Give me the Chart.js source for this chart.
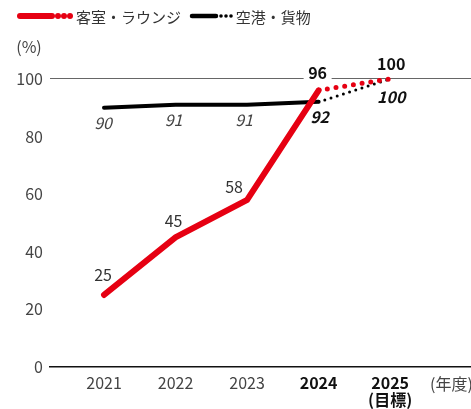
<!DOCTYPE html>
<html>
<head>
<meta charset="utf-8">
<script src="https://cdn.jsdelivr.net/npm/chart.js@4"></script>
<style>
  html, body { margin: 0; padding: 0; background: #fff; }
</style>
</head>
<body>
<canvas id="myChart" width="471" height="409"></canvas>
<script>
// Values
const years = [2021, 2022, 2023, 2024, 2025];
const yearLabels = ['2021', '2022', '2023', '2024', ['2025', '(目標)']];
const cabinValues = [25, 45, 58, 96, 100];    // 客室・ラウンジ
const airportValues = [90, 91, 91, 92, 100];  // 空港・貨物
const yTicks = [0, 20, 40, 60, 80, 100];
const cabinName = '客室・ラウンジ';
const airportName = '空港・貨物';
const lastActual = 3; // index of 2024, after that the line is the target (dotted)

const FONT = "'Noto Sans CJK JP', 'Noto Sans', sans-serif";
const RED = '#e60012';
const BLACK = '#000';

// Split a series into the solid (actual) part and the dotted (target) part
const toPoints = (vals) => years.map((y, i) => ({ x: y, y: vals[i] }));
const solidPart = (vals) => toPoints(vals).slice(0, lastActual + 1);
const dottedPart = (vals) => toPoints(vals).slice(lastActual);

// Label offsets from each point (pixels), and style of each label
const cabinOffsets = [[-1, -20], [-2, -16], [-13, -13], [-1, -17], [1, -15]];
const airportOffsets = [[-1, 15], [-2, 15], [-3, 15], [1, 15], [1, 18]];

// Draw the value labels next to the points
const valueLabels = {
    id: 'valueLabels',
    beforeDatasetsDraw(chart) {
        // white box behind the "96" label breaks the 100 grid line
        const { ctx, scales: { x, y } } = chart;
        const px = x.getPixelForValue(years[lastActual]) + cabinOffsets[lastActual][0];
        const py = y.getPixelForValue(cabinValues[lastActual]) + cabinOffsets[lastActual][1];
        ctx.save();
        ctx.fillStyle = '#fff';
        ctx.fillRect(px - 14, py - 9, 28, 18);
        ctx.restore();
    },
    afterDatasetsDraw(chart) {
        const { ctx, scales: { x, y } } = chart;
        ctx.save();
        ctx.textAlign = 'center';
        ctx.textBaseline = 'middle';
        years.forEach((yr, i) => {
            const px = x.getPixelForValue(yr);
            const bold = i >= lastActual;

            ctx.font = (bold ? 'bold ' : '') + '16px ' + FONT;
            ctx.fillStyle = bold ? '#111' : '#333';
            ctx.fillText(String(cabinValues[i]), px + cabinOffsets[i][0], y.getPixelForValue(cabinValues[i]) + cabinOffsets[i][1]);

            ctx.font = 'italic ' + (bold ? 'bold ' : '') + '16px ' + FONT;
            ctx.fillStyle = bold ? '#111' : '#444';
            ctx.fillText(String(airportValues[i]), px + airportOffsets[i][0], y.getPixelForValue(airportValues[i]) + airportOffsets[i][1]);
        });
        ctx.restore();
    },
    afterDraw(chart) {
        const { ctx, chartArea } = chart;
        ctx.save();
        ctx.textBaseline = 'middle';

        // legend: solid bar + dots + name
        const drawKey = (x0, color, barLen, barW, dotR, dotGap, name) => {
            ctx.strokeStyle = color;
            ctx.fillStyle = color;
            ctx.lineCap = 'round';
            ctx.lineWidth = barW;
            ctx.beginPath();
            ctx.moveTo(x0, 16);
            ctx.lineTo(x0 + barLen, 16);
            ctx.stroke();
            for (let k = 0; k < 3; k++) {
                ctx.beginPath();
                ctx.arc(x0 + barLen + dotGap * (k + 1), 16, dotR, 0, Math.PI * 2);
                ctx.fill();
            }
            ctx.fillStyle = '#333';
            ctx.font = '15px ' + FONT;
            ctx.textAlign = 'left';
            const tx = x0 + barLen + dotGap * 3 + dotR + 3;
            ctx.fillText(name, tx, 17);
        };
        drawKey(20, RED, 32, 6, 3, 6, cabinName);
        drawKey(192, BLACK, 24, 4.5, 1.8, 5, airportName);

        // unit labels
        ctx.fillStyle = '#444';
        ctx.font = '16px ' + FONT;
        ctx.textAlign = 'center';
        ctx.fillText('(%)', 29, 47);
        ctx.textAlign = 'left';
        ctx.fillText('(年度)', 430, chartArea.bottom + 17);
        ctx.restore();
    }
};

const ctx = document.getElementById('myChart').getContext('2d');
const myChart = new Chart(ctx, {
    type: 'line',
    data: {
        datasets: [
            {
                label: cabinName,
                data: solidPart(cabinValues),
                borderColor: RED,
                borderWidth: 6,
                borderCapStyle: 'round',
                pointRadius: 0,
            },
            {
                label: cabinName + '(目標)',
                data: dottedPart(cabinValues),
                borderColor: RED,
                borderWidth: 5,
                borderCapStyle: 'round',
                borderDash: [0, 8.8],
                pointRadius: 0,
            },
            {
                label: airportName,
                data: solidPart(airportValues),
                borderColor: BLACK,
                borderWidth: 4,
                borderCapStyle: 'round',
                pointRadius: 0,
            },
            {
                label: airportName + '(目標)',
                data: dottedPart(airportValues),
                borderColor: BLACK,
                borderWidth: 3,
                borderCapStyle: 'round',
                borderDash: [0, 6.5],
                pointRadius: 0,
            }
        ]
    },
    options: {
        responsive: false,
        devicePixelRatio: 1,
        animation: false,
        layout: { padding: { top: 50, left: 0, right: 0, bottom: 0 } },
        plugins: {
            legend: { display: false },
            tooltip: { enabled: false }
        },
        scales: {
            x: {
                type: 'linear',
                min: 2020.245,
                max: 2026.13,
                afterBuildTicks: (s) => { s.ticks = years.map(v => ({ value: v })); },
                afterFit: (s) => { s.height = 42; },
                grid: { display: false, drawTicks: false },
                border: { display: true, color: '#111', width: 1.5 },
                ticks: {
                    padding: 8,
                    autoSkip: false,
                    maxRotation: 0,
                    callback: (v) => yearLabels[years.indexOf(v)],
                    color: (c) => c.tick && c.tick.value >= years[lastActual] ? '#111' : '#444',
                    font: (c) => ({
                        family: FONT,
                        size: 16,
                        lineHeight: 1.05,
                        weight: c.tick && c.tick.value >= years[lastActual] ? 'bold' : 'normal'
                    })
                }
            },
            y: {
                min: 0,
                max: 110,
                afterBuildTicks: (s) => { s.ticks = yTicks.map(v => ({ value: v })); },
                afterFit: (s) => { s.width = 50; },
                grid: {
                    drawTicks: false,
                    color: (c) => c.tick && c.tick.value === 100 ? '#666' : 'rgba(0,0,0,0)',
                    lineWidth: 1
                },
                border: { display: false },
                ticks: {
                    padding: 7,
                    color: '#444',
                    font: { family: FONT, size: 16 }
                }
            }
        }
    },
    plugins: [valueLabels]
});
</script>
</body>
</html>
